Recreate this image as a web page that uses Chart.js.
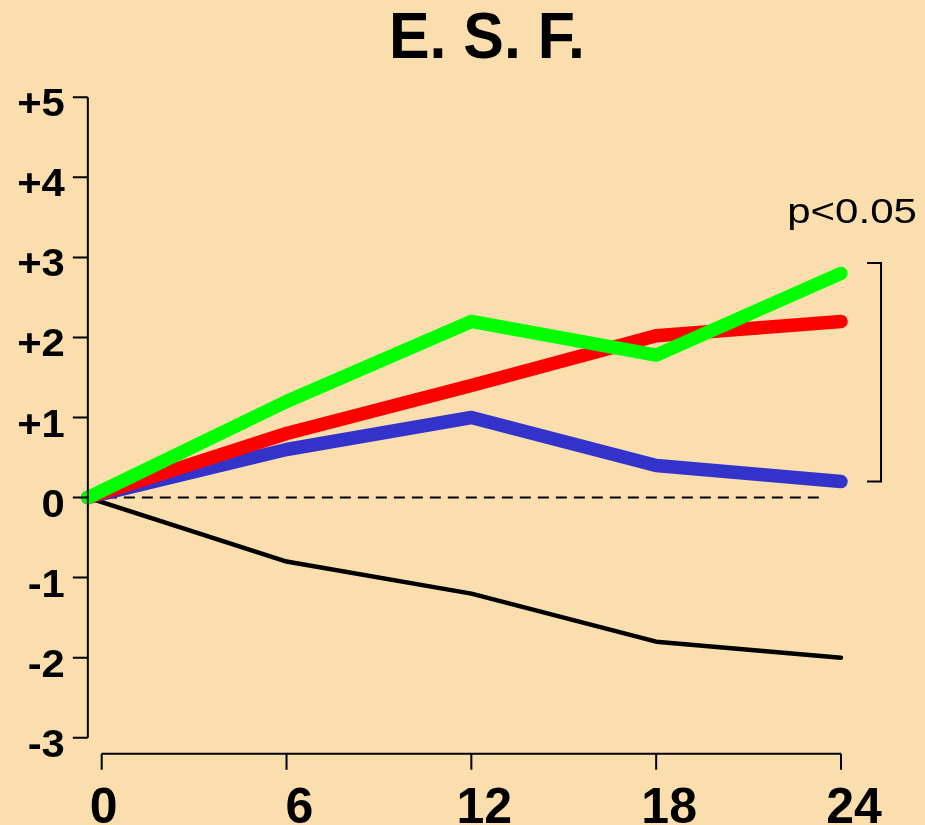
<!DOCTYPE html>
<html>
<head>
<meta charset="utf-8">
<script src="https://cdn.jsdelivr.net/npm/chart.js@4.4.0/dist/chart.umd.min.js"></script>
<style>
html, body { margin: 0; padding: 0; background: #FADEAD; overflow: hidden; }
canvas { display: block; }
</style>
</head>
<body>
<canvas id="esf" width="925" height="850"></canvas>
<script>
// months of follow-up (first point sits on the y axis, just left of the 0 tick)
const months = [-0.45, 6, 12, 18, 24];
const greenValues = [0, 1.2, 2.2, 1.78, 2.8];
const redValues = [0, 0.8, 1.4, 2.02, 2.2];
const blueValues = [0, 0.6, 1.0, 0.4, 0.2];
const blackValues = [0, -0.8, -1.2, -1.8, -2.0];

const xTicks = [0, 6, 12, 18, 24];
const yTicks = [5, 4, 3, 2, 1, 0, -1, -2, -3];
const yTickLabels = ['+5', '+4', '+3', '+2', '+1', '0', '-1', '-2', '-3'];
const bracketRange = [0.2, 2.93];
const zeroLineEnd = 23.5;
const chartTitle = 'E. S. F.';
const pLabel = 'p<0.05';

const FONT = '"Liberation Sans", Arial, sans-serif';

function toPoints(values) {
    return values.map((v, i) => ({x: months[i], y: v}));
}

// R-like text is a bit wider than Arial, so allow a horizontal stretch
function drawText(ctx, text, x, y, font, sx, align) {
    ctx.save();
    ctx.font = font;
    ctx.fillStyle = '#000';
    ctx.textAlign = align;
    ctx.textBaseline = 'alphabetic';
    ctx.translate(x, y);
    ctx.scale(sx, 1);
    ctx.fillText(text, 0, 0);
    ctx.restore();
}

const rStyleAxes = {
    id: 'rStyleAxes',
    beforeDatasetsDraw(chart) {
        const {ctx, scales: {x, y}} = chart;
        // dashed zero reference
        ctx.save();
        ctx.strokeStyle = '#000';
        ctx.lineWidth = 2;
        ctx.setLineDash([11, 7]);
        ctx.beginPath();
        ctx.moveTo(x.getPixelForValue(months[0]), y.getPixelForValue(0));
        ctx.lineTo(x.getPixelForValue(zeroLineEnd), y.getPixelForValue(0));
        ctx.stroke();
        ctx.restore();
    },
    afterDraw(chart) {
        const {ctx, scales: {x, y}} = chart;
        const axisX = x.getPixelForValue(months[0]);
        const axisY = y.bottom + 16;

        ctx.save();
        ctx.strokeStyle = '#000';
        ctx.lineWidth = 2;
        ctx.lineCap = 'butt';

        // y axis
        ctx.beginPath();
        ctx.moveTo(axisX, y.getPixelForValue(yTicks[0]));
        ctx.lineTo(axisX, y.getPixelForValue(yTicks[yTicks.length - 1]));
        yTicks.forEach(t => {
            const py = y.getPixelForValue(t);
            ctx.moveTo(axisX - 15, py);
            ctx.lineTo(axisX, py);
        });
        ctx.stroke();

        // x axis
        ctx.beginPath();
        ctx.moveTo(x.getPixelForValue(xTicks[0]), axisY);
        ctx.lineTo(x.getPixelForValue(xTicks[xTicks.length - 1]), axisY);
        xTicks.forEach(t => {
            const px = x.getPixelForValue(t);
            ctx.moveTo(px, axisY);
            ctx.lineTo(px, axisY + 16);
        });
        ctx.stroke();

        // significance bracket
        const bx = x.getPixelForValue(25.3);
        const bTop = y.getPixelForValue(bracketRange[1]);
        const bBot = y.getPixelForValue(bracketRange[0]);
        ctx.beginPath();
        ctx.moveTo(bx - 14, bTop);
        ctx.lineTo(bx, bTop);
        ctx.lineTo(bx, bBot);
        ctx.lineTo(bx - 14, bBot);
        ctx.stroke();
        ctx.restore();

        yTicks.forEach((t, i) => {
            drawText(ctx, yTickLabels[i], axisX - 23, y.getPixelForValue(t) + 19,
                'bold 38px ' + FONT, 1.1, 'right');
        });
        xTicks.forEach((t, i) => {
            // the first label sits almost on its tick, the others a little to the right
            const shift = i === 0 ? 2 : 13;
            drawText(ctx, String(t), x.getPixelForValue(t) + shift, axisY + 69,
                'bold 50px ' + FONT, 1.0, 'center');
        });

        drawText(ctx, pLabel, bx - 29, bTop - 40, '35px ' + FONT, 1.2, 'center');
        drawText(ctx, chartTitle, 487, 58, 'bold 64px ' + FONT, 0.95, 'center');
    }
};

const lineStyle = {
    borderWidth: 13.5,
    borderCapStyle: 'round',
    borderJoinStyle: 'round',
    pointRadius: 0,
    tension: 0,
    clip: false
};

new Chart(document.getElementById('esf'), {
    type: 'line',
    data: {
        datasets: [
            {label: 'green', data: toPoints(greenValues), borderColor: '#00FF00', ...lineStyle},
            {label: 'red', data: toPoints(redValues), borderColor: '#FF0000', ...lineStyle},
            {label: 'blue', data: toPoints(blueValues), borderColor: '#3333CC', ...lineStyle},
            {label: 'control', data: toPoints(blackValues), borderColor: '#000000',
                ...lineStyle, borderWidth: 4.5}
        ]
    },
    options: {
        responsive: false,
        animation: false,
        events: [],
        layout: {
            padding: {left: 101.7, right: 84, top: 97.3, bottom: 112.3}
        },
        plugins: {
            legend: {display: false},
            tooltip: {enabled: false},
            title: {display: false}
        },
        scales: {
            x: {type: 'linear', min: 0, max: 24, display: false},
            y: {type: 'linear', min: -3, max: 5, display: false}
        }
    },
    plugins: [rStyleAxes]
});
</script>
</body>
</html>
